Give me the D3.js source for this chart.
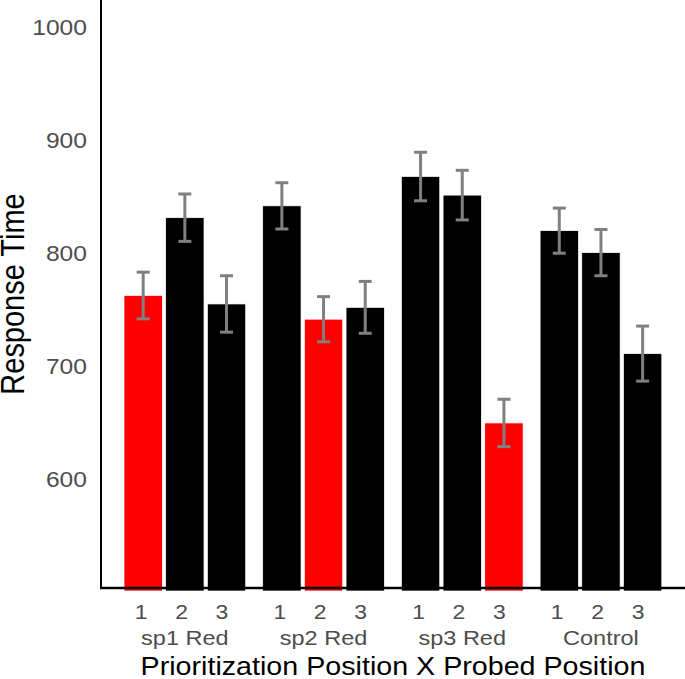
<!DOCTYPE html>
<html>
<head>
<meta charset="utf-8">
<script src="https://cdn.jsdelivr.net/npm/d3@7"></script>
<style>
  html, body { margin: 0; padding: 0; background: #fff; overflow: hidden; }
  svg { display: block; font-family: "Liberation Sans", Arial, Helvetica, sans-serif; }
</style>
</head>
<body>
<svg id="chart" width="685" height="679"></svg>
<script>
// ---- data ----
const groups = ["sp1 Red", "sp2 Red", "sp3 Red", "Control"];
const probed = ["1", "2", "3"];
const redProbe = ["1", "2", "3", null];          // prioritized position per group
const meanRT = [
  [762, 831, 754.5],
  [841.5, 741, 751.5],
  [867.5, 851, 649],
  [819.5, 800, 710.5]
];
const seRT = [
  [20.7, 21, 25],
  [20.5, 20, 23],
  [21.5, 22, 21],
  [20, 20.5, 24.4]
];
const yTicks = [600, 700, 800, 900, 1000];
const yDomain = [500, 1024];
const xTitle = "Prioritization Position X Probed Position";
const yTitle = "Response Time";

// ---- layout ----
const W = 685, H = 679;
const panel = { left: 101, right: 685, top: 0, bottom: 591 };
const sx = 1.12; // horizontal text stretch seen in reference

const svg = d3.select("#chart");

const y = d3.scaleLinear().domain(yDomain).range([panel.bottom, panel.top]);
const xGroup = d3.scaleBand().domain(groups)
  .range([panel.left + 14.5, panel.right - 14.7])
  .paddingInner(0.1226).paddingOuter(0.0613);
const xSub = d3.scaleBand().domain(probed)
  .range([0, xGroup.bandwidth()]).paddingInner(0.08).paddingOuter(0);

const rows = [];
groups.forEach((g, gi) => probed.forEach((p, pi) => {
  rows.push({ g, p, mean: meanRT[gi][pi], se: seRT[gi][pi], red: redProbe[gi] === p });
}));

const defs = svg.append("defs");
defs.append("clipPath").attr("id", "pclip").append("rect")
  .attr("x", panel.left).attr("y", panel.top)
  .attr("width", panel.right - panel.left).attr("height", panel.bottom - panel.top);

const gBars = svg.append("g").attr("clip-path", "url(#pclip)");
gBars.selectAll("rect.bar").data(rows).join("rect")
  .attr("class", "bar")
  .attr("x", d => xGroup(d.g) + xSub(d.p))
  .attr("width", xSub.bandwidth())
  .attr("y", d => y(d.mean))
  .attr("height", d => y(yDomain[0]) - y(d.mean))
  .attr("fill", d => d.red ? "#FF0000" : "#000000")
  .attr("stroke", "#ffffff").attr("stroke-width", 0.7);

// error bars
const capW = 13;
const gErr = gBars.append("g").attr("stroke", "#808080").attr("stroke-width", 3).attr("fill", "none");
rows.forEach(d => {
  const cx = xGroup(d.g) + xSub(d.p) + xSub.bandwidth() / 2;
  const y1 = y(d.mean + d.se), y0 = y(d.mean - d.se);
  gErr.append("line").attr("x1", cx).attr("x2", cx).attr("y1", y1).attr("y2", y0);
  gErr.append("line").attr("x1", cx - capW / 2).attr("x2", cx + capW / 2).attr("y1", y1).attr("y2", y1);
  gErr.append("line").attr("x1", cx - capW / 2).attr("x2", cx + capW / 2).attr("y1", y0).attr("y2", y0);
});

// axis lines
svg.append("line").attr("x1", panel.left).attr("x2", panel.left)
  .attr("y1", panel.top).attr("y2", panel.bottom - 2)
  .attr("stroke", "#000").attr("stroke-width", 2);
svg.append("line").attr("x1", panel.left - 1).attr("x2", panel.right)
  .attr("y1", panel.bottom - 3).attr("y2", panel.bottom - 3)
  .attr("stroke", "#000").attr("stroke-width", 2.5);

function stretchedText(parent, x, yy, txt, size, anchor, color, rot) {
  return parent.append("text")
    .attr("transform", `translate(${x},${yy}) scale(${sx},1)` + (rot ? ` rotate(${rot})` : ""))
    .attr("text-anchor", anchor)
    .attr("font-size", size)
    .attr("fill", color)
    .text(txt);
}

// y tick labels
const gy = svg.append("g");
yTicks.forEach(t => {
  stretchedText(gy, 87, y(t) + 8.3, String(t), 22, "end", "#4D4D4D");
});

// x tick labels (probed position) and group labels
const gx = svg.append("g");
groups.forEach(g => {
  const gc = xGroup(g) + xGroup.bandwidth() / 2;
  const midSub = xSub(probed[1]) + xSub.bandwidth() / 2;
  probed.forEach(p => {
    const bc = xSub(p) + xSub.bandwidth() / 2;
    stretchedText(gx, gc - 3.3 + (bc - midSub) * 0.97, 619, p, 20.5, "middle", "#4D4D4D");
  });
  stretchedText(gx, gc, 645, g, 21, "middle", "#4D4D4D");
});

// axis titles
stretchedText(svg, (panel.left + panel.right) / 2, 674.5, xTitle, 25.6, "middle", "#000");
stretchedText(svg, 23.5, 294, yTitle, 29, "middle", "#000", -90);
</script>
</body>
</html>
